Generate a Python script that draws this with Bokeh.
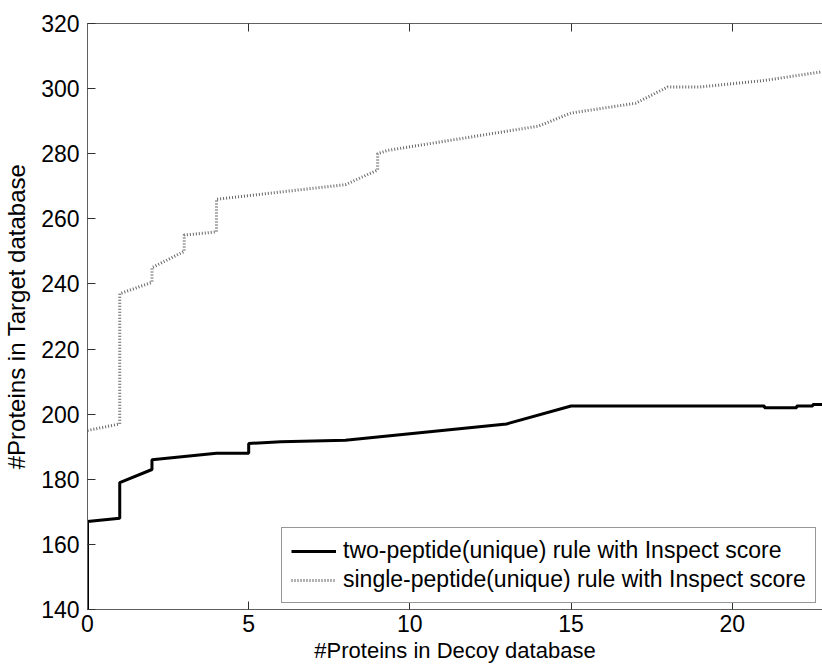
from bokeh.plotting import figure
from bokeh.models import LinearAxis, Range1d, Legend, LegendItem, FixedTicker
from bokeh.embed import file_html
from bokeh.resources import INLINE

# two-peptide(unique) rule (solid black)
two_x = [0, 0, 1, 1, 2, 2, 4, 5, 5, 6, 8, 13, 15, 21, 21, 22, 22, 22.5, 22.5, 23]
two_y = [140, 167, 168, 179, 183, 186, 188, 188, 191, 191.5, 192, 197, 202.5, 202.5, 202, 202, 202.5, 202.5, 203, 203]

# single-peptide(unique) rule (grey dotted)
single_x = [0, 1, 1, 2, 2, 3, 3, 4, 4, 8, 9, 9, 9.3, 14, 15, 17, 18, 19, 21, 23]
single_y = [195, 197, 237, 240.5, 245, 250, 255, 256, 266, 270.5, 275, 280, 281, 288.5, 292.5, 295.5, 300.5, 300.5, 302.5, 305.5]

x_ticks = [0, 5, 10, 15, 20]
y_ticks = [140, 160, 180, 200, 220, 240, 260, 280, 300, 320]

FONT = "Liberation Sans"
AXC = "#606060"

p = figure(width=822, height=668, output_backend="svg", toolbar_location=None,
           x_range=Range1d(0, 22.8), y_range=Range1d(140, 320),
           min_border_left=85, min_border_right=0, min_border_top=23, min_border_bottom=59)
p.outline_line_color = None
p.xgrid.visible = False
p.ygrid.visible = False
p.background_fill_color = "white"
p.border_fill_color = "white"

r1 = p.line(two_x, two_y, line_color="black", line_width=3)
r2 = p.line(single_x, single_y, line_color="#666666", line_width=3, line_dash="1 2")

for ax in (p.xaxis[0], p.yaxis[0]):
    ax.axis_line_color = AXC
    ax.major_tick_line_color = "#303030"
    ax.major_tick_in = 8
    ax.major_tick_out = 0
    ax.minor_tick_line_color = None
    ax.major_label_text_font = FONT
    ax.major_label_text_font_size = "23px"
    ax.major_label_text_color = "black"
    ax.axis_label_text_font = FONT
    ax.axis_label_text_font_style = "normal"
    ax.axis_label_text_color = "black"

p.xaxis[0].ticker = FixedTicker(ticks=x_ticks)
p.yaxis[0].ticker = FixedTicker(ticks=y_ticks)
p.xaxis[0].axis_label = "#Proteins in Decoy database"
p.yaxis[0].axis_label = "#Proteins in Target database"
p.xaxis[0].axis_label_text_font_size = "22px"
p.yaxis[0].axis_label_text_font_size = "24px"
p.xaxis[0].major_label_standoff = 5
p.xaxis[0].axis_label_standoff = 3
p.yaxis[0].major_label_standoff = 8
p.yaxis[0].axis_label_standoff = 8

top = LinearAxis(ticker=FixedTicker(ticks=x_ticks))
top.axis_line_color = AXC
top.major_tick_line_color = "#303030"
top.major_tick_in = 8
top.major_tick_out = 0
top.minor_tick_line_color = None
top.major_label_overrides = {t: "" for t in x_ticks}
top.major_label_standoff = 0
p.add_layout(top, "above")

legend = Legend(items=[
    LegendItem(label="two-peptide(unique) rule with Inspect score", renderers=[r1]),
    LegendItem(label="single-peptide(unique) rule with Inspect score", renderers=[r2]),
], location=(194, 6))
legend.label_text_font = FONT
legend.label_text_font_size = "23px"
legend.label_text_color = "black"
legend.glyph_width = 45
legend.glyph_height = 22
legend.label_height = 22
legend.label_standoff = 7
legend.padding = 9
legend.spacing = 2
legend.margin = 0
legend.border_line_color = "#303030"
legend.border_line_width = 1
legend.background_fill_color = "white"
legend.background_fill_alpha = 1
p.add_layout(legend, "center")

open("out.html", "w").write(file_html(p, INLINE))
